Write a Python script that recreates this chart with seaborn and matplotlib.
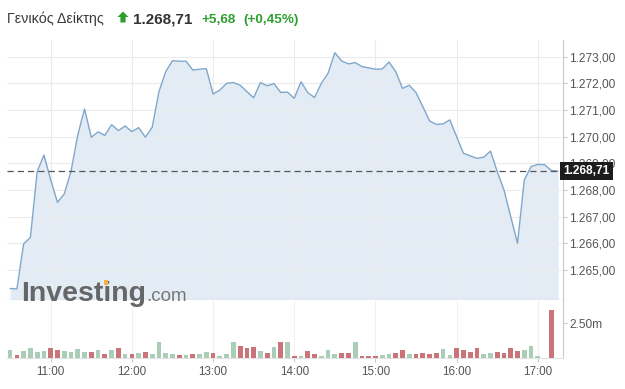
import numpy as np
import pandas as pd
import matplotlib
matplotlib.use("Agg")
import matplotlib.pyplot as plt
from matplotlib.patches import Polygon, Rectangle
import seaborn as sns

# ---------------- data ----------------
start_time = "10:30"
step_minutes = 5

price = [
    1264.31, 1264.29, 1265.98, 1266.22, 1268.69, 1269.31,
    1268.38, 1267.54, 1267.85, 1268.70, 1270.06, 1271.04, 1269.98, 1270.18, 1270.05, 1270.45, 1270.23, 1270.40,
    1270.19, 1270.34, 1269.98, 1270.35, 1271.69, 1272.44, 1272.85, 1272.83, 1272.83, 1272.50, 1272.53, 1272.55,
    1271.60, 1271.75, 1272.00, 1272.03, 1271.93, 1271.69, 1271.46, 1272.03, 1271.91, 1271.99, 1271.66, 1271.67,
    1271.44, 1272.06, 1271.65, 1271.47, 1272.00, 1272.38, 1273.15, 1272.84, 1272.73, 1272.78, 1272.63, 1272.58,
    1272.53, 1272.54, 1272.80, 1272.44, 1271.81, 1271.93, 1271.65, 1271.13, 1270.59, 1270.46, 1270.48, 1270.63,
    1270.00, 1269.38, 1269.28, 1269.19, 1269.23, 1269.46, 1268.69, 1268.00, 1267.00, 1266.00, 1268.38, 1268.88,
    1268.96, 1268.95, 1268.73, 1268.71,
]

volume_m = [
    0.59, 0.19, 0.50, 0.69, 0.45, 0.50,
    0.71, 0.57, 0.48, 0.43, 0.64, 0.43, 0.43, 0.57, 0.29, 0.57, 0.71, 0.29,
    0.29, 0.36, 0.43, 0.29, 1.14, 0.34, 0.29, 0.21, 0.21, 0.29, 0.29, 0.41,
    0.36, 0.12, 0.29, 1.14, 0.86, 0.71, 0.79, 0.48, 0.36, 0.76, 1.14, 1.14,
    0.12, 0.12, 0.50, 0.29, 0.12, 0.57, 0.29, 0.36, 0.36, 1.14, 0.12, 0.16,
    0.12, 0.21, 0.29, 0.36, 0.57, 0.29, 0.29, 0.36, 0.29, 0.36, 0.64, 0.21,
    0.69, 0.57, 0.43, 0.71, 0.29, 0.36, 0.43, 0.36, 0.71, 0.50, 0.57, 0.84,
    0.12, 0.00, 3.41, 0.00,
]

direction = [
    "up", "down", "up", "up", "up", "up",
    "down", "down", "up", "up", "up", "up", "down", "up", "down", "up", "down", "up",
    "down", "up", "down", "up", "up", "up", "up", "down", "up", "down", "up", "up",
    "down", "up", "up", "up", "down", "down", "down", "up", "down", "up", "down", "up",
    "down", "up", "down", "down", "up", "up", "up", "down", "down", "up", "down", "down",
    "down", "up", "up", "down", "down", "up", "down", "down", "down", "down", "up", "up",
    "down", "down", "down", "down", "up", "up", "down", "down", "down", "down", "up", "up",
    "up", "up", "down", "up",
]

price_ticks = [1265, 1266, 1267, 1268, 1269, 1270, 1271, 1272, 1273]
hour_ticks = ["11:00", "12:00", "13:00", "14:00", "15:00", "16:00", "17:00"]
volume_ticks = [2.5]
volume_tick_labels = ["2.50m"]
last_price = 1268.71
header_name = "Γενικός Δείκτης"
header_price = "1.268,71"
header_change = "+5,68"
header_pct = "(+0,45%)"

# ---------------- helpers ----------------
def to_min(s):
    h, m = s.split(":")
    return int(h) * 60 + int(m)

t0 = to_min(start_time)
minutes = [t0 + i * step_minutes for i in range(len(price))]

df = pd.DataFrame({"t": minutes, "price": price, "vol": volume_m, "dir": direction})

def fmt_gr(v, dec=2):
    s = f"{v:,.{dec}f}"
    return s.replace(",", "X").replace(".", ",").replace("X", ".")

# ---------------- style ----------------
sns.set_style("white")
plt.rcParams["font.family"] = ["Liberation Sans", "DejaVu Sans"]

W, H = 625, 389
fig = plt.figure(figsize=(W / 100, H / 100), dpi=100)

def rect(l, t, r, b):
    return [l / W, 1 - b / H, (r - l) / W, (b - t) / H]

ax = fig.add_axes(rect(7, 40, 563, 300))
axv = fig.add_axes(rect(7, 300, 563, 358))

line_color = "#7fa7cb"
fill_color = "#e3ecf5"
grid_color = "#ebebeb"
green = "#a3d3b4"
red = "#d9646c"
axis_col = "#c9c9c9"
txt_col = "#555555"
hdr_green = "#2e9e2e"

xlim = (627.7, 1038.6)
ylim = (1263.877, 1273.626)

# main price chart
ax.fill_between(df["t"], df["price"], ylim[0], color=fill_color, lw=0, zorder=1)
sns.lineplot(data=df, x="t", y="price", ax=ax, color=line_color, lw=1.0, zorder=3)
ax.set_xlim(*xlim)
ax.set_ylim(*ylim)
ax.set_yticks(price_ticks)
ax.set_yticklabels([fmt_gr(v) for v in price_ticks])
ax.yaxis.tick_right()
ax.set_xticks([to_min(h) for h in hour_ticks])
ax.set_xticklabels([])
ax.grid(True, color=grid_color, lw=0.8)
ax.set_axisbelow(False)
for gl in ax.get_xgridlines() + ax.get_ygridlines():
    gl.set_zorder(2)
ax.tick_params(axis="y", right=True, length=3, width=0.8, color=axis_col,
               labelsize=8.6, labelcolor=txt_col, pad=1.5)
ax.tick_params(axis="x", length=0)
ax.set_xlabel("")
ax.set_ylabel("")
for s in ["left", "top"]:
    ax.spines[s].set_visible(False)
ax.spines["right"].set_color(axis_col)
ax.spines["bottom"].set_color(axis_col)
ax.spines["right"].set_linewidth(0.8)
ax.spines["bottom"].set_linewidth(0.9)

ax.axhline(last_price, color="#555555", lw=0.9, ls=(0, (5, 3.2)), zorder=4)
ax.text(1.0, last_price, fmt_gr(last_price), transform=ax.get_yaxis_transform(),
        ha="left", va="center", color="white", fontsize=8.6, fontweight="bold",
        clip_on=False, zorder=10,
        bbox=dict(boxstyle="square,pad=0.28", fc="#1c1c1c", ec="none"))

# volume chart
sns.barplot(data=df, x="t", y="vol", hue="dir", palette={"up": green, "down": red},
            native_scale=True, dodge=False, legend=False, width=0.7,
            linewidth=0, ax=axv, zorder=3)
axv.set_xlim(*xlim)
axv.set_ylim(0, 4.16)
axv.set_yticks(volume_ticks)
axv.set_yticklabels(volume_tick_labels)
axv.yaxis.tick_right()
axv.set_xticks([to_min(h) for h in hour_ticks])
axv.set_xticklabels(hour_ticks)
axv.grid(True, axis="x", color="#f0f0f0", lw=0.8)
axv.set_axisbelow(True)
axv.tick_params(axis="y", right=True, length=3, width=0.8, color=axis_col,
                labelsize=8.6, labelcolor=txt_col, pad=1.5)
axv.tick_params(axis="x", bottom=True, length=3, width=0.8, color=axis_col,
                labelsize=8.4, labelcolor=txt_col, pad=2.5)
axv.set_xlabel("")
axv.set_ylabel("")
for s in ["left", "top"]:
    axv.spines[s].set_visible(False)
axv.spines["right"].set_color(axis_col)
axv.spines["bottom"].set_color("#e2e2e2")
axv.spines["right"].set_linewidth(0.8)
axv.spines["bottom"].set_linewidth(0.8)

# header
def fy(y):
    return 1 - y / H

def px(x, y):
    return (x / W, 1 - y / H)

fig.text(7 / W, fy(23), header_name, fontsize=10.3, color="#3a3a3a", va="baseline")
arrow_pts = [px(123, 11.5), px(128.5, 17), px(125.6, 17), px(125.6, 22.5),
             px(120.4, 22.5), px(120.4, 17), px(117.5, 17)]
fig.patches.append(Polygon(arrow_pts, closed=True, fc=hdr_green, ec="none",
                           transform=fig.transFigure, figure=fig))
fig.text(133 / W, fy(23), header_price, fontsize=11, fontweight="bold",
         color="#333333", va="baseline")
fig.text(201 / W, fy(23), header_change, fontsize=9.7, fontweight="bold",
         color=hdr_green, va="baseline")
fig.text(243 / W, fy(23), header_pct, fontsize=9.7, fontweight="bold",
         color=hdr_green, va="baseline")

# watermark
wm = fig.text(21 / W, fy(301), "Investing", fontsize=20.5, fontweight="bold",
              color="#666666", va="baseline", zorder=20)
fig.canvas.draw()
bb = wm.get_window_extent()
part = fig.text(21 / W, fy(301), "Invest", fontsize=20.5, fontweight="bold",
                color="none", va="baseline")
fig.canvas.draw()
bbp = part.get_window_extent()
part.remove()
i_left = bbp.x1
fig.patches.append(Rectangle((i_left / W + 0.8 / W, fy(284.5)), 4.2 / W, 4.8 / H,
                             fc="#f0b04a", ec="none", transform=fig.transFigure,
                             figure=fig, zorder=25))
fig.text(bb.x1 / W, fy(301), ".com", fontsize=13.5, color="#777777",
         va="baseline", zorder=20)

fig.savefig("out.png", dpi=100)
